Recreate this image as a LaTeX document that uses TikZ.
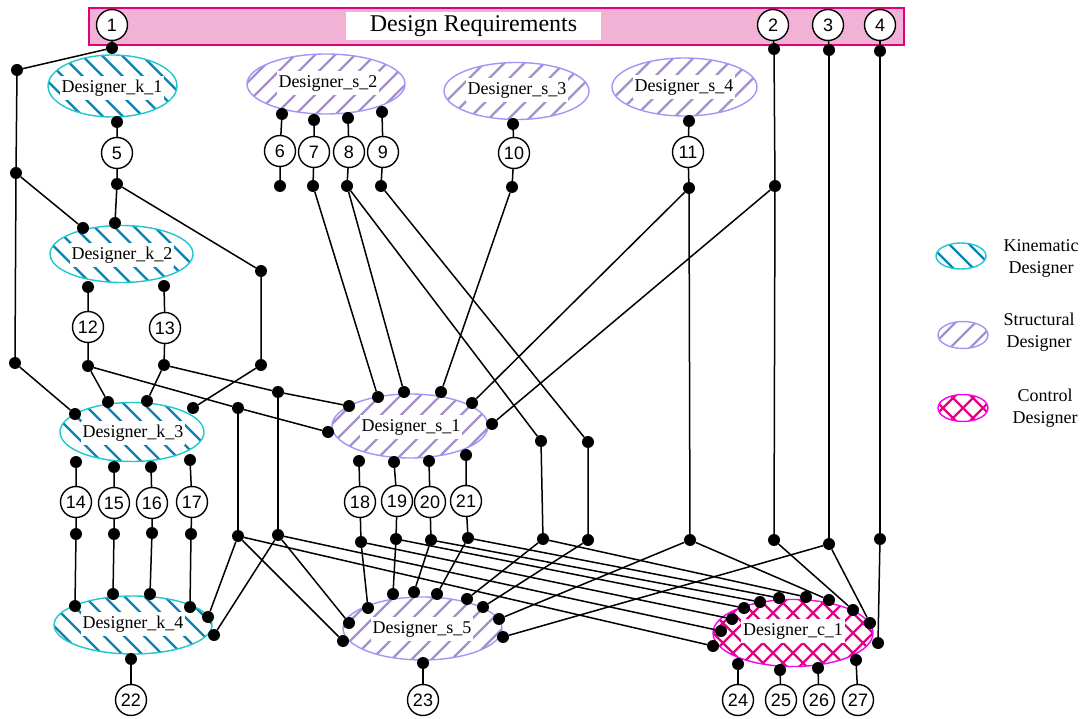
\documentclass[tikz,border=0pt]{standalone}
\usepackage{fontspec}
\setmainfont{Liberation Serif}
\newfontfamily\numfont{Liberation Sans}
\usetikzlibrary{shapes.geometric}

\definecolor{kinline}{RGB}{30,200,205}
\definecolor{kinhatch}{RGB}{10,130,180}
\definecolor{strline}{RGB}{160,150,250}
\definecolor{strhatch}{RGB}{165,145,200}
\definecolor{ctlline}{RGB}{250,0,240}
\definecolor{ctlhatch}{RGB}{230,0,130}
\definecolor{barfill}{RGB}{242,178,214}
\definecolor{barline}{RGB}{225,0,125}

\tikzset{
  wire/.style={line width=1.5pt, draw=black},
  dot/.style={circle, fill=black, inner sep=0pt, minimum size=12pt},
  num/.style={circle, draw=black, line width=1.4pt, fill=white, inner sep=0pt,
    minimum size=31pt, font=\numfont\fontsize{18}{18}\selectfont},
  blob/.style={ellipse, fill=white, line width=1.4pt, inner sep=0pt},
  kinblob/.style={blob, draw=kinline, path picture={
      \foreach \hx in {-260,-240,...,260}{
        \draw[kinhatch, line width=2.2pt] ([xshift=\hx pt]path picture bounding box.center)
          ++(-70pt,70pt) -- ++(140pt,-140pt);}}},
  strblob/.style={blob, draw=strline, path picture={
      \foreach \hx in {-260,-240,...,260}{
        \draw[strhatch, line width=2.2pt] ([xshift=\hx pt]path picture bounding box.center)
          ++(-70pt,-70pt) -- ++(140pt,140pt);}}},
  ctlblob/.style={blob, draw=ctlline, path picture={
      \foreach \hx in {-260,-240,...,260}{
        \draw[ctlhatch, line width=2.2pt] ([xshift=\hx pt]path picture bounding box.center)
          ++(-70pt,-70pt) -- ++(140pt,140pt);
        \draw[ctlhatch, line width=2.2pt] ([xshift=\hx pt]path picture bounding box.center)
          ++(-70pt,70pt) -- ++(140pt,-140pt);}}},
  lbl/.style={fill=white, inner xsep=2pt, inner ysep=4pt, font=\fontsize{18}{18}\selectfont},
  legtext/.style={align=center, font=\fontsize{18}{22}\selectfont},
}

\begin{document}
\begin{tikzpicture}[x=1pt,y=-1pt]
\useasboundingbox (0,0) rectangle (1088,719);

% requirements bar
\node[draw=barline, fill=barfill, line width=1.4pt, minimum width=815pt, minimum height=37pt, inner sep=0pt] (req) at (496.5,26.5) {};
\node[fill=white, minimum width=255pt, minimum height=28pt, inner sep=0pt, font=\fontsize{24}{24}\selectfont] (reqt) at (473.5,26) {Design Requirements};

% designers
\node[kinblob, minimum width=129pt, minimum height=62pt] (k1) at (112.5,86) {};
\node[kinblob, minimum width=143pt, minimum height=57pt] (k2) at (121.5,254) {};
\node[kinblob, minimum width=144pt, minimum height=59pt] (k3) at (132,432) {};
\node[kinblob, minimum width=158pt, minimum height=58pt] (k4) at (133,625) {};
\node[strblob, minimum width=158pt, minimum height=60pt] (s2) at (326,84) {};
\node[strblob, minimum width=145pt, minimum height=57pt] (s3) at (516.5,91) {};
\node[strblob, minimum width=145pt, minimum height=58pt] (s4) at (684.5,87) {};
\node[strblob, minimum width=156pt, minimum height=64pt] (s1) at (410,426) {};
\node[strblob, minimum width=159pt, minimum height=63pt] (s5) at (422.5,628.5) {};
\node[ctlblob, minimum width=160pt, minimum height=67pt] (c1) at (793,633) {};

\node[lbl] (k1t) at (112,88) {Designer\_k\_1};
\node[lbl] (k2t) at (122,255) {Designer\_k\_2};
\node[lbl] (k3t) at (133,433) {Designer\_k\_3};
\node[lbl] (k4t) at (133,624) {Designer\_k\_4};
\node[lbl] (s2t) at (328,83) {Designer\_s\_2};
\node[lbl] (s3t) at (517,90) {Designer\_s\_3};
\node[lbl] (s4t) at (684,87) {Designer\_s\_4};
\node[lbl] (s1t) at (411,427) {Designer\_s\_1};
\node[lbl] (s5t) at (422,629) {Designer\_s\_5};
\node[lbl] (c1t) at (793,631) {Designer\_c\_1};

% legend
\node[kinblob, minimum width=50pt, minimum height=26pt] (lk) at (961,256) {};
\node[strblob, minimum width=50pt, minimum height=27pt] (ls) at (963,335) {};
\node[ctlblob, minimum width=50pt, minimum height=27pt] (lc) at (963,408) {};
\node[legtext] (lkt) at (1041,258) {Kinematic\\Designer};
\node[legtext] (lst) at (1039,332) {Structural\\Designer};
\node[legtext] (lct) at (1045,408) {Control\\Designer};

% numbered circles
\foreach \nm/\px/\py in {r1/112/25, r2/773/25, r3/828/25, r4/880/25,
  n5/117/153, n6/280/151, n7/314/152, n8/349/152, n9/383/152, n10/514/153, n11/688/152,
  n12/88/327, n13/165/328, n14/76/502, n15/114/503, n16/152/503, n17/192/502,
  n18/360/502, n19/397/501, n20/430/502, n21/466/501, n22/131/700, n23/423/700,
  n24/738/700, n25/781/700, n26/819/700, n27/858/700}
  {\node[num] (\nm) at (\px,\py) {\phantom{0}};}
\foreach \nm/\tx in {r1/1, r2/2, r3/3, r4/4, n5/5, n6/6, n7/7, n8/8, n9/9, n10/10, n11/11,
  n12/12, n13/13, n14/14, n15/15, n16/16, n17/17, n18/18, n19/19, n20/20, n21/21,
  n22/22, n23/23, n24/24, n25/25, n26/26, n27/27}
  {\node[font=\numfont\fontsize{18}{18}\selectfont, inner sep=0pt] (\nm t) at (\nm) {\tx};}

% dots
\foreach \nm/\px/\py in {
  r1d/112/48, r2d/774/49, r3d/829/50, r4d/880/51,
  a1/17/70, a2/16/173, a3/15/363,
  k1o/117/122, n5d/117/184, k2i1/83/228, k2i2/115/223, b1/261/271, b2/261/365,
  k2o1/88/287, k2o2/164/286, n12d/88/366, n13d/164/365,
  k3i1/75/414, k3i2/108/402, k3i3/147/401, k3i4/193/408,
  c12/238/408, c13/278/392,
  k3o1/76/462, k3o2/114/467, k3o3/151/467, k3o4/190/460,
  n14d/76/534, n15d/114/534, n16d/152/533, n17d/191/534,
  k4i1/75/606, k4i2/113/594, k4i3/150/594, k4i4/190/607, k4i5/208/617, k4i6/214/635,
  e1/238/536, e2/278/535, k4o/131/659,
  s2o1/282/114, s2o2/314/120, s2o3/348/118, s2o4/382/112,
  n6d/280/186, n7d/313/186, n8d/347/186, n9d/381/186,
  s3o/513/124, n10d/512/187, s4o/689/121, n11d/689/188, r2j/775/186,
  s1i1/349/406, s1i2/328/432, s1i3/378/397, s1i4/404/392, s1i5/441/392, s1i6/472/403, s1i7/492/424,
  s1o1/359/461, s1o2/394/462, s1o3/429/461, s1o4/466/455,
  n18d/361/542, n19d/396/539, n20d/431/540, n21d/468/538,
  f8/541/441, f9/588/442, g8/543/539, g9/588/540,
  h11/690/540, h2/774/540, h3/829/544, h4/880/539,
  s5i1/349/623, s5i2/343/641, s5i3/368/608, s5i4/393/594, s5i5/414/592, s5i6/437/594,
  s5i7/467/599, s5i8/483/607, s5i9/499/619, s5i10/503/637, s5o/423/663,
  c1i1/713/646, c1i2/721/631, c1i3/732/619, c1i4/744/608, c1i5/760/602, c1i6/779/598,
  c1i7/806/597, c1i8/829/600, c1i9/853/610, c1i10/870/623, c1i11/878/643,
  c1o1/738/664, c1o2/780/670, c1o3/818/668, c1o4/856/660}
  {\node[dot] (\nm) at (\px,\py) {};}

% connectors
\begin{scope}[wire]
\draw (r1) -- (r1d); \draw (r2) -- (r2d); \draw (r3) -- (r3d); \draw (r4) -- (r4d);
\draw (r1d) -- (a1) -- (a2) -- (a3) -- (k3i1);
\draw (a2) -- (k2i1);
\draw (k1o) -- (n5) -- (n5d) -- (k2i2);
\draw (n5d) -- (b1) -- (b2) -- (k3i4);
\draw (k2o1) -- (n12) -- (n12d) -- (k3i2);
\draw (n12d) -- (c12) -- (s1i2);
\draw (c12) -- (e1);
\draw (k2o2) -- (n13) -- (n13d) -- (k3i3);
\draw (n13d) -- (c13) -- (s1i1);
\draw (c13) -- (e2);
\draw (k3o1) -- (n14) -- (n14d) -- (k4i1);
\draw (k3o2) -- (n15) -- (n15d) -- (k4i2);
\draw (k3o3) -- (n16) -- (n16d) -- (k4i3);
\draw (k3o4) -- (n17) -- (n17d) -- (k4i4);
\draw (e1) -- (k4i5); \draw (e1) -- (s5i2); \draw (e1) -- (c1i1);
\draw (e2) -- (k4i6); \draw (e2) -- (s5i1); \draw (e2) -- (c1i2);
\draw (k4o) -- (n22);
\draw (s2o1) -- (n6) -- (n6d);
\draw (s2o2) -- (n7) -- (n7d) -- (s1i3);
\draw (s2o3) -- (n8) -- (n8d) -- (s1i4);
\draw (n8d) -- (f8) -- (g8);
\draw (s2o4) -- (n9) -- (n9d) -- (f9) -- (g9);
\draw (s3o) -- (n10) -- (n10d) -- (s1i5);
\draw (s4o) -- (n11) -- (n11d) -- (s1i6);
\draw (n11d) -- (h11);
\draw (r2d) -- (r2j) -- (s1i7);
\draw (r2j) -- (h2);
\draw (r3d) -- (h3);
\draw (r4d) -- (h4);
\draw (s1o1) -- (n18) -- (n18d) -- (s5i3); \draw (n18d) -- (c1i3);
\draw (s1o2) -- (n19) -- (n19d) -- (s5i4); \draw (n19d) -- (c1i4);
\draw (s1o3) -- (n20) -- (n20d) -- (s5i5); \draw (n20d) -- (c1i5);
\draw (s1o4) -- (n21) -- (n21d) -- (s5i6); \draw (n21d) -- (c1i6);
\draw (g8) -- (s5i7); \draw (g8) -- (c1i7);
\draw (g9) -- (s5i8);
\draw (h11) -- (s5i9); \draw (h11) -- (c1i8);
\draw (h2) -- (c1i9);
\draw (h3) -- (s5i10); \draw (h3) -- (c1i10);
\draw (h4) -- (c1i11);
\draw (s5o) -- (n23);
\draw (c1o1) -- (n24); \draw (c1o2) -- (n25); \draw (c1o3) -- (n26); \draw (c1o4) -- (n27);
\end{scope}
\end{tikzpicture}
\end{document}
